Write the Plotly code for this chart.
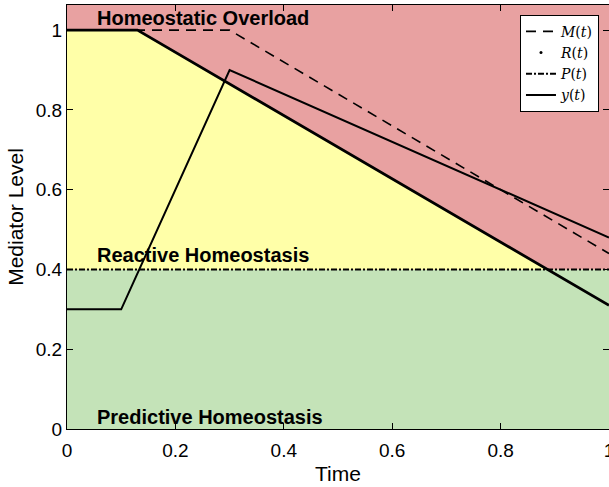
import numpy as np
import plotly.graph_objects as go

# Time breakpoints and mediator levels for each signal
t_M = [0.0, 0.3, 1.0]
M_vals = [1.0, 1.0, 0.44]

t_R = [0.0, 0.13, 1.0]
R_vals = [1.0, 1.0, 0.31]

t_P = [0.0, 1.0]
P_vals = [0.4, 0.4]

t_y = [0.0, 0.1, 0.3, 1.0]
y_vals = [0.3, 0.3, 0.9, 0.48]

zone_labels = ["Homeostatic Overload", "Reactive Homeostasis", "Predictive Homeostasis"]
zone_label_y = [1.03, 0.437, 0.03]

x_ticks = [0, 0.2, 0.4, 0.6, 0.8, 1]
y_ticks = [0, 0.2, 0.4, 0.6, 0.8, 1]

RED = "rgb(232,161,161)"
YELLOW = "rgb(255,255,168)"
GREEN = "rgb(196,227,184)"
SANS = "Liberation Sans, Arial, sans-serif"

# Reactive zone: between the set point P and the reactive bound R, where R > P
fine_t = np.linspace(0, 1, 2001)
R_fine = np.interp(fine_t, t_R, R_vals)
P_level = P_vals[0]
cross_t = fine_t[np.argmax(R_fine <= P_level)]
poly_x = [0.0] + [t for t in t_R if t < cross_t] + [cross_t]
poly_y = [P_level] + [r for t, r in zip(t_R, R_vals) if t < cross_t] + [P_level]

fig = go.Figure()

fig.add_trace(go.Scatter(
    x=poly_x, y=poly_y, fill="toself", fillcolor=YELLOW,
    mode="lines", line=dict(width=0), showlegend=False, hoverinfo="skip"))

fig.add_trace(go.Scatter(
    x=t_M, y=M_vals, mode="lines", name="<i>M</i>(<i>t</i>)",
    line=dict(color="black", width=1.6, dash="10px,7px")))

fig.add_trace(go.Scatter(
    x=t_R, y=R_vals, mode="lines", showlegend=False,
    line=dict(color="black", width=2.8)))
fig.add_trace(go.Scatter(
    x=[None], y=[None], mode="markers", name="<i>R</i>(<i>t</i>)",
    marker=dict(color="black", size=3)))

fig.add_trace(go.Scatter(
    x=t_P, y=P_vals, mode="lines", name="<i>P</i>(<i>t</i>)",
    line=dict(color="black", width=2, dash="6px,2px,2px,2px")))

fig.add_trace(go.Scatter(
    x=t_y, y=y_vals, mode="lines", name="<i>y</i>(<i>t</i>)",
    line=dict(color="black", width=2)))

# Predictive zone below the set point
fig.add_shape(type="rect", xref="paper", yref="y", x0=0, x1=1, y0=0, y1=P_level,
              fillcolor=GREEN, line=dict(width=0), layer="below")

for label, ly in zip(zone_labels, zone_label_y):
    fig.add_annotation(x=0.052, y=ly, xref="x", yref="y", text="<b>" + label + "</b>",
                       showarrow=False, xanchor="left", yanchor="middle",
                       font=dict(family=SANS, size=20, color="black"))

axis_common = dict(
    showgrid=False, zeroline=False, showline=True, linecolor="black", linewidth=1,
    mirror="ticks", ticks="inside", ticklen=6, tickcolor="black",
    tickfont=dict(family=SANS, size=19, color="black"),
    ticklabeloverflow="allow", automargin=False,
)

fig.update_xaxes(range=[0, 1], tickvals=x_ticks, ticktext=[f"{v:g}" for v in x_ticks],
                 ticklabelstandoff=4,
                 title=dict(text="Time", standoff=6,
                            font=dict(family=SANS, size=21, color="black")),
                 **axis_common)
fig.update_yaxes(range=[0, 1.063], tickvals=y_ticks, ticktext=[f"{v:g}" for v in y_ticks],
                 title=dict(text="Mediator Level", standoff=6,
                            font=dict(family=SANS, size=21, color="black")),
                 **axis_common)

fig.update_layout(
    width=609, height=487,
    margin=dict(l=67, r=0, t=5, b=58),
    paper_bgcolor="white", plot_bgcolor=RED,
    legend=dict(x=0.9815, y=0.977, xanchor="right", yanchor="top",
                bgcolor="white", bordercolor="black", borderwidth=1,
                font=dict(family="DejaVu Serif, Liberation Serif, serif", size=14, color="black"),
                itemwidth=30, tracegroupgap=0),
)

fig.write_html("out.html")
